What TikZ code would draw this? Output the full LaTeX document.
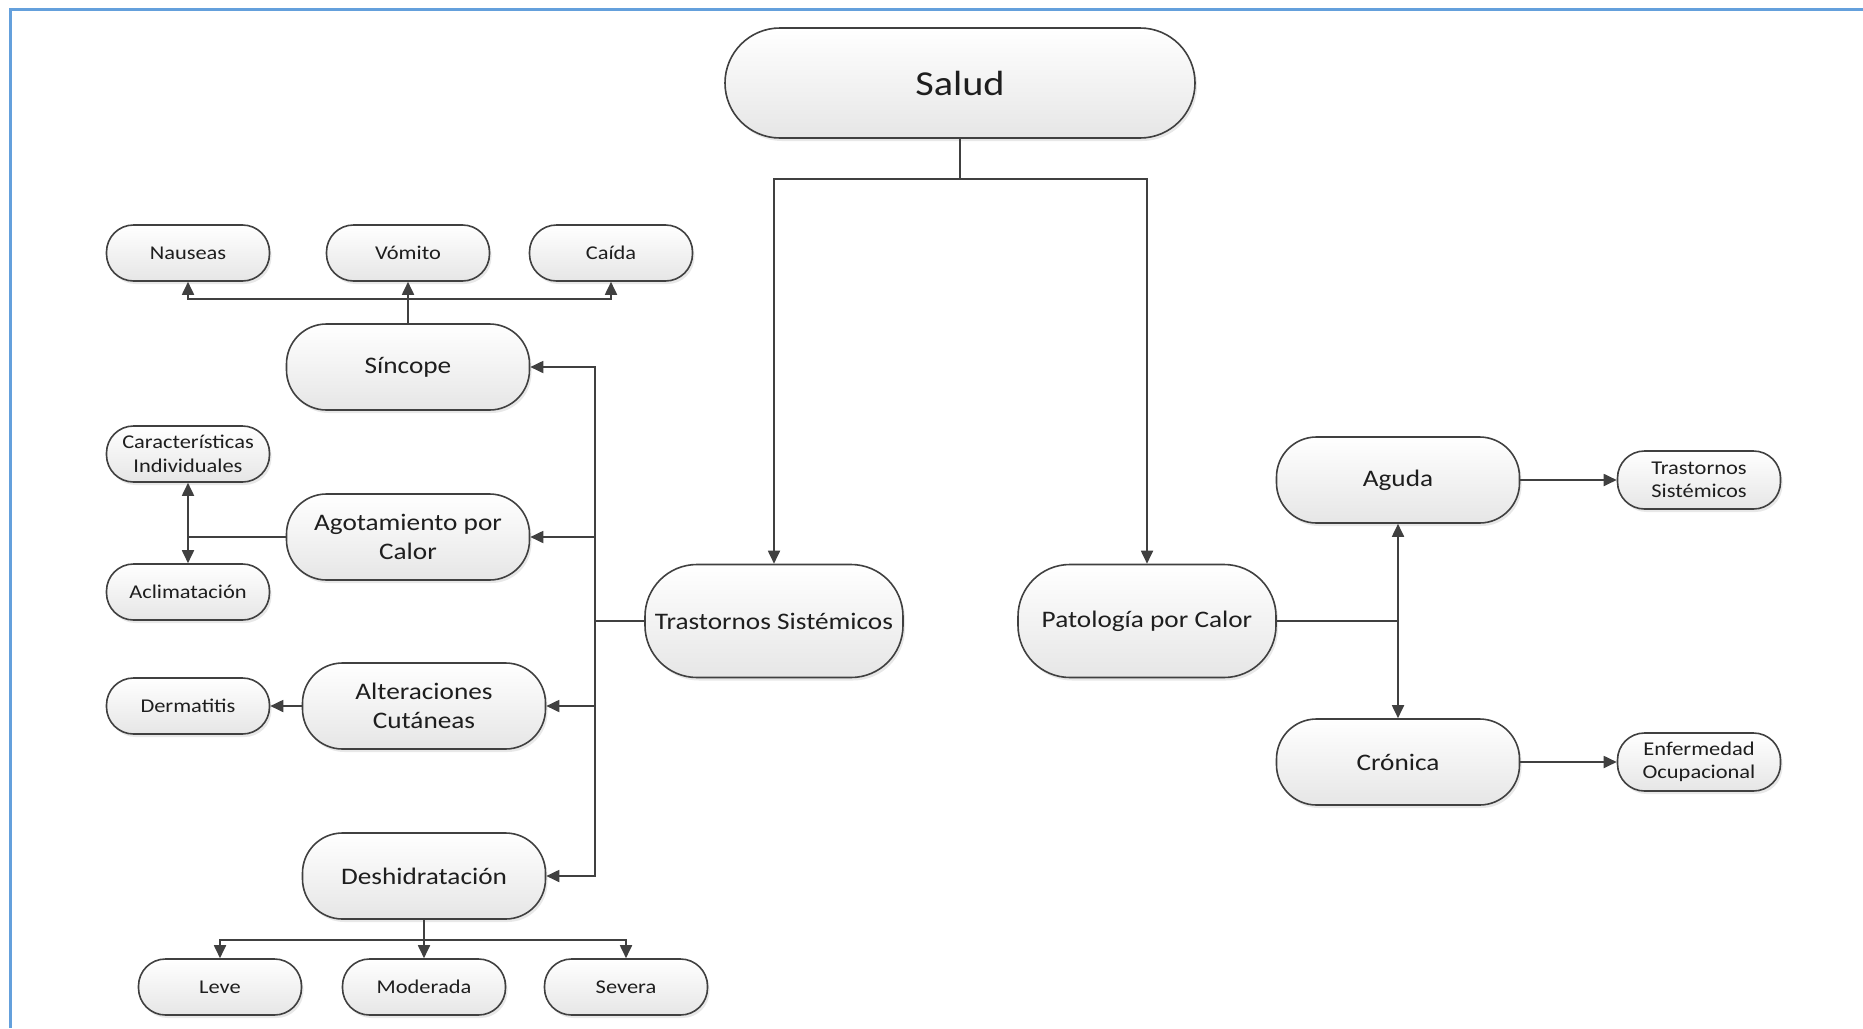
\documentclass[tikz,border=0pt]{standalone}
\usepackage{fontspec}
\setmainfont{Carlito}[FakeStretch=1.15]
\usetikzlibrary{arrows.meta,shadows}
\definecolor{frameblue}{RGB}{100,160,220}
\definecolor{edgegray}{RGB}{64,64,64}
\definecolor{txtgray}{RGB}{30,30,30}
\definecolor{shadebot}{RGB}{230,230,230}
\begin{document}
\begin{tikzpicture}[x=1pt,y=-1pt,
  box/.style={draw=edgegray, line width=1.6pt, top color=white, bottom color=shadebot,
    text=txtgray, align=center, inner sep=0pt,
    drop shadow={shadow xshift=2pt, shadow yshift=-3pt, opacity=0.18}},
  bigbox/.style={box, minimum width=470pt, minimum height=110pt, rounded corners=55pt,
    font=\fontsize{35}{42}\selectfont},
  tallbox/.style={box, minimum width=258pt, minimum height=113pt, rounded corners=52pt,
    font=\fontsize{23.7}{28.4}\selectfont},
  midbox/.style={box, minimum width=243pt, minimum height=86pt, rounded corners=40pt,
    font=\fontsize{23.7}{28.4}\selectfont},
  smallbox/.style={box, minimum width=163pt, minimum height=56pt, rounded corners=27pt,
    font=\fontsize{19.5}{23.4}\selectfont},
  conn/.style={draw=edgegray, line width=1.8pt},
  arr/.style={conn, -{Triangle[length=13pt,width=12pt]}},
]
\useasboundingbox[fill=white] (0,0) rectangle (1863,1028);
\draw[frameblue, line width=3pt] (10,1028) -- (10,9.5) -- (1863,9.5);

% nodes
\node[bigbox] (salud) at (960,83) {Salud};
\node[tallbox] (ts) at (774,621) {Trastornos Sistémicos};
\node[tallbox] (pc) at (1147,621) {Patología por Calor};

\node[midbox] (sincope) at (408,367) {Síncope};
\node[midbox] (agot) at (408,537) {Agotamiento por\\Calor};
\node[midbox] (alter) at (424,706) {Alteraciones\\Cutáneas};
\node[midbox] (desh) at (424,876) {Deshidratación};

\node[smallbox] (nauseas) at (188,253) {Nauseas};
\node[smallbox] (vomito) at (408,253) {Vómito};
\node[smallbox] (caida) at (611,253) {Caída};

\node[smallbox] (caract) at (188,454) {Características\\Individuales};
\node[smallbox] (aclim) at (188,592) {Aclimatación};
\node[smallbox] (derm) at (188,706) {Dermatitis};

\node[smallbox] (leve) at (220,987) {Leve};
\node[smallbox] (moder) at (424,987) {Moderada};
\node[smallbox] (severa) at (626,987) {Severa};

\node[midbox] (aguda) at (1398,480) {Aguda};
\node[midbox] (cronica) at (1398,762) {Crónica};
\node[smallbox, minimum height=58pt] (ts2) at (1699,480) {Trastornos\\Sistémicos};
\node[smallbox, minimum height=58pt] (eo) at (1699,762) {Enfermedad\\Ocupacional};

% connectors
\coordinate (sbus) at (960,179);
\draw[conn] (salud.south) -- (sbus);
\draw[arr] (sbus) -| (ts.north);
\draw[arr] (sbus) -| (pc.north);

\coordinate (trunk) at (595,621);
\draw[conn] (ts.west) -- (trunk);
\draw[arr] (trunk) |- (sincope.east);
\draw[arr] (trunk) |- (agot.east);
\draw[arr] (trunk) |- (alter.east);
\draw[arr] (trunk) |- (desh.east);

\coordinate (sb) at (408,299);
\draw[conn] (sincope.north) -- (sb);
\draw[arr] (sb) -| (nauseas.south);
\draw[arr] (sb) -- (vomito.south);
\draw[arr] (sb) -| (caida.south);

\coordinate (ab) at (188,537);
\draw[conn] (agot.west) -- (ab);
\draw[arr] (ab) -- (caract.south);
\draw[arr] (ab) -- (aclim.north);

\draw[arr] (alter.west) -- (derm.east);

\coordinate (db) at (424,940);
\draw[conn] (desh.south) -- (db);
\draw[arr] (db) -| (leve.north);
\draw[arr] (db) -- (moder.north);
\draw[arr] (db) -| (severa.north);

\coordinate (pb) at (1398,621);
\draw[conn] (pc.east) -- (pb);
\draw[arr] (pb) -- (aguda.south);
\draw[arr] (pb) -- (cronica.north);
\draw[arr] (aguda.east) -- (ts2.west);
\draw[arr] (cronica.east) -- (eo.west);
\end{tikzpicture}
\end{document}
